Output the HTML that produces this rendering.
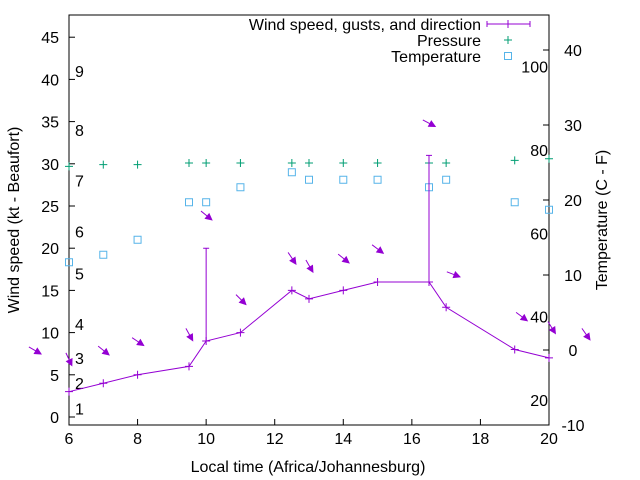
<!DOCTYPE html>
<html><head><meta charset="utf-8"><style>
body{margin:0;background:#fff}
svg{display:block;font-family:"Liberation Sans",sans-serif}
</style></head><body>
<svg id="c" width="640" height="480" viewBox="0 0 640 480"></svg>
<script>
const hours=[6,7,8,9.5,10,11,12.5,13,14,15,16.5,17,19,20];
const windKt=[3,4,5,6,9,10,15,14,15,16,16,13,8,7];
const gustHours=[10,16.5];
const gustKt=[20,31];
const tempC=[11.7,12.7,14.7,19.7,19.7,21.7,23.7,22.7,22.7,22.7,21.7,22.7,19.7,18.7];
const pressHours=[6,7,8,9.5,10,11,12.5,13,14,15,16.5,17,19,20];
const pressVal=[29.7,29.9,29.9,30.1,30.1,30.1,30.1,30.1,30.1,30.1,30.1,30.1,30.4,30.6];
const arrowHours=[4.83,5.91,6.85,7.84,9.41,9.85,10.87,12.39,12.91,13.85,14.84,16.32,17.02,19.04,19.97,20.96];
const arrowKt=[8.3,7.6,8.4,9.4,10.5,24.4,14.5,19.5,18.6,19.3,20.4,35.2,17.2,12.4,11.3,10.5];
const arrowDeg=[30,65,39,34,61,39,45,56,60,39,37,28,21,37,58,55];
const xTicks=[6,8,10,12,14,16,18,20];
const yTicks=[0,5,10,15,20,25,30,35,40,45];
const tTicks=[-10,0,10,20,30,40];
const fLabels=[20,40,60,80,100];
const bftLabels=[1,2,3,4,5,6,7,8,9];
const bftKt=[1,4,7,11,17,22,28,34,41];

const L=69,R=549,T=15,B=425,FS=16;
const X=h=>L+(h-6)*(R-L)/14;
const Y=k=>417-k*8.44;
const YT=c=>350-c*7.5;
const YF=f=>YT((f-32)*5/9);
const NS='http://www.w3.org/2000/svg';
const svg=document.getElementById('c');
function mk(tag,at,txt){const e=document.createElementNS(NS,tag);for(const k in at)e.setAttribute(k,at[k]);if(txt!==undefined)e.textContent=txt;svg.appendChild(e);return e;}
const P='#9400d3',G='#009e73',C='#56b4e9';

let f=mk('rect',{x:L,y:T,width:R-L,height:B-T,fill:'none',stroke:'#000','stroke-width':1});


xTicks.forEach(h=>{
 let t=mk('line',{x1:X(h),x2:X(h),y1:B,y2:B-6,stroke:'#000'});
 
 
 let l=mk('text',{x:X(h),y:B+19,'text-anchor':'middle','font-size':FS},h);
 
 
});
yTicks.forEach(v=>{
 let t=mk('line',{x1:L,x2:L+6,y1:Y(v),y2:Y(v),stroke:'#000'});
 
 
 let l=mk('text',{x:L-10,y:Y(v)+6,'text-anchor':'end','font-size':FS},v);
 
 
});
tTicks.forEach(v=>{
 let t=mk('line',{x1:R,x2:R-6,y1:YT(v),y2:YT(v),stroke:'#000'});
 
 
 let l=mk('text',{x:R+24,y:YT(v)+6,'text-anchor':'middle','font-size':FS},v);
 
 
});
fLabels.forEach(v=>{
 let l=mk('text',{x:R-1,y:YF(v)+6,'text-anchor':'end','font-size':FS},v);
 
 
});
bftLabels.forEach((b,i)=>{
 let l=mk('text',{x:75,y:Y(bftKt[i])+6,'font-size':FS},b);
 
 
});
let xt=mk('text',{x:308,y:472,'text-anchor':'middle','font-size':FS},'Local time (Africa/Johannesburg)');


let yt=mk('text',{x:0,y:0,transform:'translate(19,220) rotate(-90)','text-anchor':'middle','font-size':FS},'Wind speed (kt - Beaufort)');


let y2=mk('text',{x:0,y:0,transform:'translate(607,220) rotate(-90)','text-anchor':'middle','font-size':FS},'Temperature (C - F)');



function plus(x,y,c,name){
 let g=mk('path',{d:`M${x-4},${y}H${x+4}M${x},${y-4}V${y+4}`,stroke:c,'stroke-width':1,fill:'none'});
 
 
}
pressHours.forEach((h,i)=>plus(X(h),Y(pressVal[i]),G,'pressure-point'));
hours.forEach((h,i)=>{
 let s=mk('rect',{x:X(h)-3.5,y:YT(tempC[i])-3.5,width:7,height:7,fill:'none',stroke:C,'stroke-width':1});
 
 
});
let wl=mk('polyline',{points:hours.map((h,i)=>X(h)+','+Y(windKt[i])).join(' '),fill:'none',stroke:P,'stroke-width':1});


hours.forEach((h,i)=>plus(X(h),Y(windKt[i]),P,'wind-point'));
gustHours.forEach((h,i)=>{
 let wi=windKt[hours.indexOf(h)];
 let g=mk('path',{d:`M${X(h)},${Y(wi)}V${Y(gustKt[i])}M${X(h)-3},${Y(gustKt[i])}H${X(h)+3}`,stroke:P,fill:'none'});
 
 
});
arrowHours.forEach((h,i)=>{
 const x0=X(h),y0=Y(arrowKt[i]),a=arrowDeg[i]*Math.PI/180,len=14;
 const x1=x0+len*Math.cos(a),y1=y0+len*Math.sin(a);
 const ux=Math.cos(a),uy=Math.sin(a),hl=6,hw=3;
 const bx=x1-ux*hl,by=y1-uy*hl;
 let g=mk('path',{d:`M${x0},${y0}L${bx},${by}M${x1},${y1}L${bx-uy*hw},${by+ux*hw}L${bx+uy*hw},${by-ux*hw}Z`,stroke:P,fill:P,'stroke-width':1});
 
 
});
const lg=[['Wind speed, gusts, and direction',24],['Pressure',40],['Temperature',56]];
lg.forEach((e,i)=>{
 let t=mk('text',{x:481,y:e[1]+6,'text-anchor':'end','font-size':FS},e[0]);
 
 
});
let ls=mk('path',{d:'M487,24H530M487,21V27M530,21V27M508,20V28',stroke:P,fill:'none'});


plus(508,40,G,'legend-pressure-sample');
let lt=mk('rect',{x:504.5,y:52.5,width:7,height:7,fill:'none',stroke:C,'stroke-width':1});


</script>
</body></html>
